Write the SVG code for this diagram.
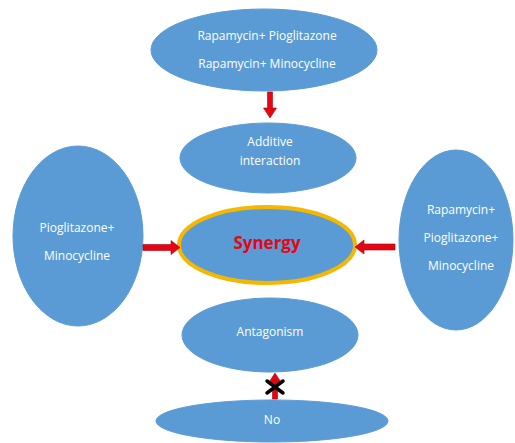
<svg xmlns="http://www.w3.org/2000/svg" width="515" height="443" viewBox="0 0 515 443">
<style>
.n{fill:#5B9BD5;stroke:#5B9BD5;stroke-width:1}
.t{font-family:"Open Sans","Liberation Sans",sans-serif;font-size:12px;fill:#fff;text-anchor:middle}
.a{fill:#E30613;stroke:#B00010;stroke-width:0.6}
</style>
<rect width="515" height="443" fill="#fff"/>
<g id="top"><ellipse class="n" cx="264" cy="50" rx="113" ry="41"/>
<text class="t" x="267" y="40">Rapamycin+ Pioglitazone</text>
<text class="t" x="267" y="68">Rapamycin+ Minocycline</text></g>
<g id="additive"><ellipse class="n" cx="268" cy="158" rx="88" ry="35"/>
<text class="t" x="270" y="146">Additive</text>
<text class="t" x="270" y="165">interaction</text></g>
<g id="left"><ellipse class="n" cx="78" cy="236" rx="65" ry="90"/>
<text class="t" x="77" y="232">Pioglitazone+</text>
<text class="t" x="77" y="260">Minocycline</text></g>
<g id="synergy"><ellipse cx="267" cy="245" rx="88" ry="38" fill="#5B9BD5" stroke="#F5B800" stroke-width="4"/>
<text x="267" y="249" font-family="'Open Sans','Liberation Sans',sans-serif" font-size="17" font-weight="bold" fill="#E30613" text-anchor="middle">Synergy</text></g>
<g id="right"><ellipse class="n" cx="456" cy="240" rx="57" ry="90"/>
<text class="t" x="461" y="214">Rapamycin+</text>
<text class="t" x="461" y="242">Pioglitazone+</text>
<text class="t" x="461" y="270">Minocycline</text></g>
<g id="antagonism"><ellipse class="n" cx="270" cy="335" rx="88" ry="37"/>
<text class="t" x="270" y="336">Antagonism</text></g>
<g id="no"><ellipse class="n" cx="272" cy="421" rx="116" ry="21"/>
<text class="t" x="272" y="424">No</text></g>
<g id="connectors">
<polygon class="a" points="267.5,92 272.5,92 272.5,108 276.5,108 270,118 263.5,108 267.5,108"/>
<polygon class="a" points="143,244.5 171,244.5 171,240.5 180,247.5 171,254.5 171,250.5 143,250.5"/>
<polygon class="a" points="395,244 364,244 364,240 355,247 364,254 364,250 395,250"/>
<polygon class="a" points="272.5,399 277.5,399 277.5,383 281.5,383 275,373 268.5,383 272.5,383"/>
<path d="M267,381 L283,393 M283,381 L267,393" stroke="#000" stroke-width="3.5" stroke-linecap="round"/>
</g>
</svg>
